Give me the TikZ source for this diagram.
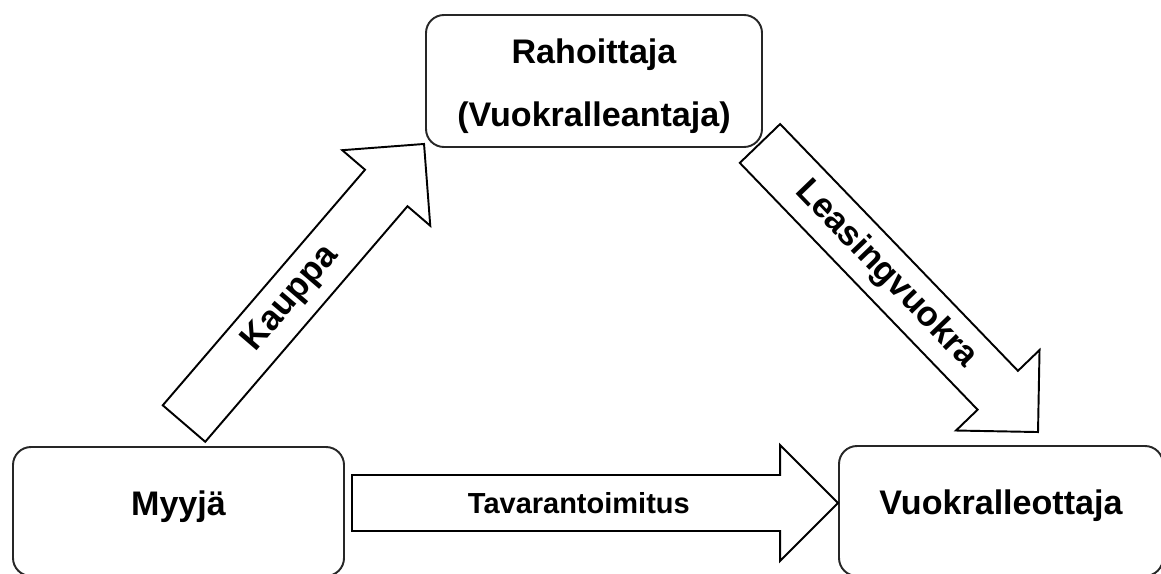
\documentclass[tikz,border=0pt]{standalone}
\usepackage{fontspec}
\setmainfont{Liberation Sans}
\usetikzlibrary{calc}
\tikzset{
    party/.style       = {draw=black!85, line width=1.1pt, rounded corners=0.36cm,
                          inner sep=0pt, align=center,
                          font=\bfseries\fontsize{19.4}{36}\selectfont},
    low text/.style    = {text height=0.5cm, text depth=0.35cm},
    fat arrow/.style   = {draw, line width=1.1pt, fill=white, line join=miter},
    arrow label/.style = {inner sep=0pt,
                          font=\bfseries\fontsize{19.8}{24}\selectfont}
}
\newcommand\shaftw{0.56cm}
\newcommand\headw{1.16cm}
\newcommand\headl{1.16cm}
% [label options]{tail}{tip}{label}
\newcommand\blockarrow[4][]{%
    \coordinate (hb) at ($(#3)!\headl!(#2)$);
    \draw[fat arrow] ($(#2)!\shaftw!90:(#3)$) -- ($(hb)!\shaftw!90:(#3)$)
        -- ($(hb)!\headw!90:(#3)$) -- (#3) -- ($(hb)!\headw!-90:(#3)$)
        -- ($(hb)!\shaftw!-90:(#3)$) -- ($(#2)!\shaftw!-90:(#3)$) -- cycle;
    \path (#2) -- (hb) node[arrow label, sloped, pos=0.53, #1] {#4};
}

\begin{document}
\begin{tikzpicture}

\useasboundingbox (0,0) rectangle (23.22,-11.46);

\node[party, low text, minimum width=6.62cm, minimum height=2.58cm]
    (myyja) at (3.57,-10.23) {Myyjä};
\node[party, low text, minimum width=6.48cm, minimum height=2.6cm]
    (vuokralleottaja) at (20.02,-10.22) {Vuokralleottaja};
\node[party, text height=1.97cm, minimum width=6.72cm, minimum height=2.64cm]
    (rahoittaja) at (11.88,-1.62) {Rahoittaja\\(Vuokralleantaja)};

\coordinate (kauppa tail) at ($(myyja.north)+(0.11,0.45)$);
\coordinate (kauppa tip) at ($(rahoittaja.south west)+(-0.02,0.08)$);
\coordinate (vuokra tail) at ($(rahoittaja.south east)+(-0.06,0.09)$);
\coordinate (vuokra tip) at ($(vuokralleottaja.north)+(0.74,0.26)$);
\coordinate (toimitus tail) at ($(myyja.east)+(0.14,0.17)$);
\coordinate (toimitus tip) at ($(vuokralleottaja.west)+(0,0.16)$);

\blockarrow{kauppa tail}{kauppa tip}{Kauppa}
\blockarrow{vuokra tail}{vuokra tip}{Leasingvuokra}
\blockarrow[font=\bfseries\fontsize{16.5}{20}\selectfont]
    {toimitus tail}{toimitus tip}{Tavarantoimitus}

\end{tikzpicture}
\end{document}
